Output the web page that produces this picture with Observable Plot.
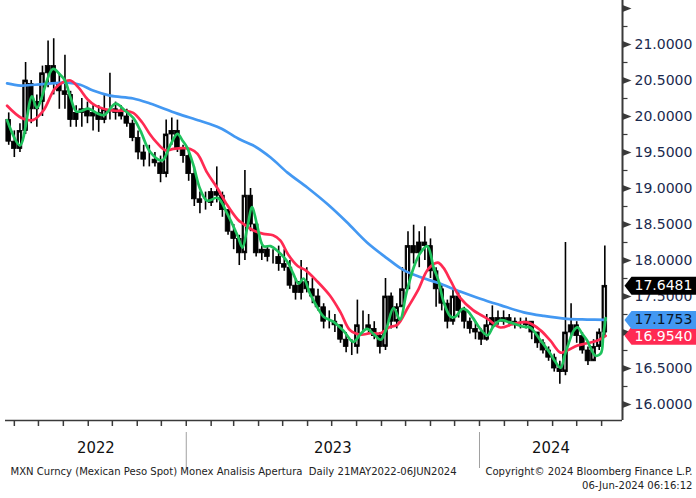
<!DOCTYPE html>
<html><head><meta charset="utf-8">
<script src="https://cdn.jsdelivr.net/npm/d3@7"></script>
<script src="https://cdn.jsdelivr.net/npm/@observablehq/plot@0.6"></script>
<style>html,body{margin:0;padding:0;background:#fff;overflow:hidden}</style>
</head><body><div id="chart"></div>
<script>
// ---- weekly OHLC of USD/MXN ----
const weekStart = "2022-05-23", weekEnd = "2024-06-04";
const open  = [19.95,19.65,19.55,19.8,20.45,20.1,20.2,20.6,20.7,20.45,20.35,20.3,19.95,20.05,20.1,20.0,20.05,19.95,20.1,20.1,20.05,20.0,19.9,19.7,19.5,19.4,19.4,19.35,19.2,19.75,19.8,19.55,19.45,19.2,18.85,18.8,18.8,18.95,18.9,18.7,18.4,18.3,18.1,18.9,18.5,18.1,18.15,18.05,18.05,17.95,17.9,17.65,17.55,17.7,17.6,17.5,17.35,17.15,17.15,17.1,16.9,16.8,16.8,17.1,17.1,17.05,16.95,16.8,17.5,17.15,17.35,17.6,18.2,18.1,18.25,18.2,17.85,17.6,17.4,17.15,17.5,17.3,17.15,17.05,17.0,16.9,17.1,17.2,17.15,17.2,17.15,17.1,17.1,17.15,17.0,16.85,16.75,16.65,16.5,16.45,17.0,17.1,16.95,16.75,16.6,16.8,17.0];
const high  = [20.05,19.8,19.9,20.75,20.5,20.3,20.7,21.05,21.08,20.6,20.85,20.35,20.15,20.25,20.2,20.15,20.15,20.3,20.6,20.2,20.15,20.1,19.95,19.8,19.6,19.6,19.5,19.45,19.95,19.98,19.95,19.6,19.5,19.3,18.95,18.95,19.0,19.3,18.95,18.7,18.5,18.35,19.25,19.0,18.55,18.2,18.2,18.15,18.2,18.15,18.0,17.75,18.0,17.9,17.75,17.6,17.4,17.3,17.25,17.1,17.0,16.9,17.45,17.3,17.25,17.15,17.0,17.75,17.55,17.4,17.9,18.4,18.49,18.4,18.47,18.3,17.9,17.65,17.45,17.6,17.55,17.35,17.2,17.15,17.05,17.25,17.37,17.3,17.3,17.25,17.2,17.2,17.2,17.15,17.0,16.9,16.8,16.7,16.6,18.25,17.4,17.15,17.0,16.8,16.9,17.05,18.2];
const low   = [19.6,19.43,19.5,19.75,19.9,19.85,20.0,20.4,20.3,20.1,20.1,19.85,19.85,19.85,19.9,19.8,19.78,19.9,19.95,19.95,19.95,19.85,19.65,19.4,19.3,19.3,19.3,19.08,19.15,19.6,19.5,19.35,19.1,18.75,18.65,18.7,18.75,18.8,18.6,18.35,18.15,17.93,18.0,18.4,18.05,18.0,17.98,17.95,17.85,17.85,17.6,17.45,17.45,17.55,17.4,17.3,17.05,17.05,17.0,16.85,16.72,16.68,16.7,17.0,16.98,16.9,16.7,16.75,17.05,17.05,17.35,17.6,17.95,17.9,18.0,17.75,17.35,17.3,17.05,17.1,17.2,17.05,16.98,16.9,16.82,16.88,17.05,17.1,17.1,17.08,17.05,17.05,17.05,16.9,16.78,16.7,16.6,16.45,16.28,16.4,16.95,16.85,16.7,16.54,16.6,16.75,16.95];
const close = [19.65,19.55,19.8,20.5,20.1,20.2,20.6,20.7,20.45,20.35,20.3,19.95,20.05,20.1,20.0,20.05,19.95,20.1,20.1,20.05,20.0,19.9,19.7,19.5,19.4,19.4,19.35,19.2,19.75,19.8,19.55,19.45,19.2,18.85,18.8,18.8,18.95,18.9,18.7,18.4,18.3,18.1,18.9,18.5,18.1,18.15,18.05,18.05,17.95,17.9,17.65,17.55,17.7,17.6,17.5,17.35,17.15,17.15,17.1,16.9,16.8,16.8,17.1,17.1,17.05,16.95,16.8,17.5,17.15,17.35,17.6,18.2,18.1,18.25,18.2,17.85,17.6,17.4,17.15,17.5,17.3,17.15,17.05,17.0,16.9,17.1,17.2,17.15,17.2,17.15,17.1,17.1,17.15,17.0,16.85,16.75,16.65,16.5,16.45,17.0,17.1,16.95,16.75,16.6,16.8,17.0,17.6481];

// ---- green (short) moving average ----
const greenDates = ["2022-05-23","2022-06-08","2022-06-23","2022-06-29","2022-07-19","2022-07-28","2022-08-03","2022-08-10","2022-08-17","2022-08-24","2022-09-01","2022-09-13","2022-09-21","2022-10-05","2022-10-17","2022-10-27","2022-11-05","2022-11-17","2022-12-02","2022-12-12","2022-12-21","2022-12-27","2023-01-02","2023-01-10","2023-01-18","2023-01-27","2023-02-09","2023-02-21","2023-03-06","2023-03-12","2023-03-18","2023-03-24","2023-03-30","2023-04-07","2023-04-16","2023-04-24","2023-05-07","2023-05-14","2023-05-21","2023-05-27","2023-06-04","2023-06-13","2023-06-21","2023-07-03","2023-07-16","2023-07-28","2023-08-06","2023-08-14","2023-08-23","2023-08-31","2023-09-07","2023-09-16","2023-09-24","2023-10-02","2023-10-11","2023-10-19","2023-10-28","2023-11-05","2023-11-11","2023-11-17","2023-11-26","2023-12-02","2023-12-11","2023-12-17","2023-12-24","2024-01-02","2024-01-11","2024-01-18","2024-01-27","2024-02-08","2024-02-25","2024-03-04","2024-03-17","2024-03-29","2024-04-04","2024-04-11","2024-04-16","2024-04-21","2024-04-27","2024-05-02","2024-05-08","2024-05-14","2024-05-24","2024-05-31","2024-06-03","2024-06-06"];
const greenValues = [19.95,19.6,20.28,20.12,20.66,20.58,20.5,20.26,20.07,20.08,20.11,20.04,20.02,20.18,20.08,19.98,19.8,19.51,19.39,19.6,19.76,19.67,19.57,19.32,19.0,18.83,18.87,18.65,18.34,18.18,18.46,18.74,18.5,18.2,18.2,18.14,17.98,17.82,17.68,17.75,17.54,17.35,17.22,17.15,17.02,16.87,16.98,17.05,16.97,16.9,17.05,17.34,17.18,17.55,17.9,18.1,18.2,17.9,17.72,17.44,17.22,17.22,17.33,17.3,17.2,17.05,16.96,17.08,17.17,17.14,17.08,17.07,16.89,16.71,16.6,16.51,16.68,16.85,17.02,17.07,16.98,16.89,16.68,16.71,16.95,17.2];

// ---- red (medium) moving average ----
const redDates = ["2022-05-23","2022-06-10","2022-06-24","2022-07-07","2022-07-21","2022-08-01","2022-08-10","2022-08-20","2022-08-31","2022-09-10","2022-09-22","2022-10-05","2022-10-17","2022-10-27","2022-11-07","2022-11-17","2022-11-25","2022-12-06","2022-12-16","2022-12-27","2023-01-06","2023-01-15","2023-01-27","2023-02-09","2023-02-21","2023-03-06","2023-03-13","2023-03-25","2023-04-07","2023-04-19","2023-04-28","2023-05-08","2023-05-20","2023-05-29","2023-06-13","2023-06-29","2023-07-12","2023-07-24","2023-08-06","2023-08-18","2023-08-31","2023-09-10","2023-09-21","2023-10-04","2023-10-17","2023-10-29","2023-11-10","2023-11-17","2023-11-26","2023-12-08","2023-12-24","2024-01-11","2024-01-27","2024-02-12","2024-03-01","2024-03-17","2024-03-29","2024-04-11","2024-04-19","2024-05-02","2024-05-14","2024-05-27","2024-06-06"];
const redValues = [20.15,19.98,19.95,20.08,20.38,20.48,20.5,20.4,20.24,20.15,20.1,20.08,20.08,20.05,19.92,19.75,19.64,19.53,19.55,19.56,19.55,19.48,19.22,19.0,18.77,18.57,18.51,18.42,18.37,18.35,18.28,18.08,17.92,17.87,17.71,17.51,17.28,17.03,16.97,16.99,16.99,17.07,17.11,17.35,17.6,17.88,17.97,17.9,17.72,17.48,17.31,17.19,17.07,17.12,17.14,17.03,16.89,16.72,16.75,16.82,16.85,16.89,16.954];

// ---- blue (200-day) moving average ----
const blueDates = ["2022-05-23","2022-06-09","2022-07-07","2022-08-06","2022-08-22","2022-09-07","2022-09-28","2022-10-27","2022-11-17","2022-12-21","2023-01-18","2023-02-12","2023-03-09","2023-03-25","2023-04-16","2023-05-07","2023-06-01","2023-06-26","2023-07-20","2023-08-14","2023-09-08","2023-09-28","2023-10-19","2023-11-10","2023-12-08","2024-01-02","2024-01-27","2024-02-25","2024-03-21","2024-04-19","2024-05-14","2024-06-06"];
const blueValues = [20.46,20.43,20.45,20.47,20.44,20.36,20.29,20.25,20.18,20.04,19.94,19.84,19.68,19.6,19.43,19.22,19.01,18.78,18.53,18.25,18.03,17.87,17.77,17.69,17.57,17.47,17.38,17.28,17.23,17.19,17.18,17.1753];

// ---- axis ticks and labels ----
const majorTicks = [16,16.5,17,17.5,18,18.5,19,19.5,20,20.5,21,21.5];
const minorTicks = [16.25,16.75,17.25,17.75,18.25,18.75,19.25,19.75,20.25,20.75,21.25];
const tickValues = [16,16.5,17,17.5,18,18.5,19,19.5,20,20.5,21];
const tickLabels = ["16.0000","16.5000","17.0000","17.5000","18.0000","18.5000","19.0000","19.5000","20.0000","20.5000","21.0000"];
const years = [2022, 2023, 2024];
const lastPrice = 17.6481, lastBlue = 17.1753, lastRed = 16.954;
const footerLeft = "MXN Curncy (Mexican Peso Spot) Monex Analisis Apertura  Daily 21MAY2022-06JUN2024";
const footerRight1 = "Copyright\u00A9 2024 Bloomberg Finance L.P.";
const footerRight2 = "06-Jun-2024 06:16:12";

const xDomain = [new Date("2022-05-21"), new Date("2024-06-27")];
const yDomain = [15.7778, 21.6111];

const GREEN = "#1ec25c", RED = "#ff2a52", BLUE = "#4398f2", AXIS = "#3a3a3a", TXT = "#1b2a4e";
const FONT = "DejaVu Sans", COND = "DejaVu Sans Condensed";

const weeks = d3.utcMonday.range(new Date(weekStart), new Date(weekEnd)).map(d => d3.utcDay.offset(d, 2));
const candles = weeks.map((date, i) => ({date, open: open[i], high: high[i], low: low[i], close: close[i]}));
const series = (dates, vals) => dates.map((d, i) => ({date: new Date(d), v: vals[i]}));
const green = series(greenDates, greenValues), red = series(redDates, redValues), blue = series(blueDates, blueValues);

const yearMid = years.map(y => {
  const s = Math.max(+xDomain[0], Date.UTC(y, 0, 1)), e = Math.min(+xDomain[1], Date.UTC(y + 1, 0, 1));
  return new Date((s + e) / 2);
});
const monthTicks = d3.utcMonth.range(new Date("2022-06-01"), new Date("2024-07-01"));
const yearBreaks = years.slice(1).map(y => new Date(Date.UTC(y, 0, 1)));

const triSym = {draw(c) { c.moveTo(0, -3.5); c.lineTo(9, 0); c.lineTo(0, 3.5); c.closePath(); }};
const minorSym = {draw(c) { c.moveTo(0, 0); c.lineTo(5, 0); }};
const tagSym = {draw(c) { c.moveTo(2, 0); c.lineTo(9, -9); c.lineTo(80, -9); c.lineTo(80, 9); c.lineTo(9, 9); c.closePath(); }};

const half = 70; // hours on each side of the candle centre
const plot = Plot.plot({
  width: 696, height: 498,
  marginLeft: 5, marginRight: 74, marginTop: 0, marginBottom: 78,
  x: {type: "utc", domain: xDomain, axis: null},
  y: {domain: yDomain, axis: null},
  style: {fontFamily: FONT, background: "#fff"},
  marks: [
    // candles
    Plot.ruleX(candles, {x: "date", y1: "low", y2: "high", stroke: "#000", strokeWidth: 1.6}),
    Plot.rect(candles, {x1: d => d3.utcHour.offset(d.date, -half), x2: d => d3.utcHour.offset(d.date, half), y1: "open", y2: "close", fill: "#000", stroke: "#000", strokeWidth: 0.8}),
    Plot.rect(candles.filter(d => d.close - d.open > 0.15), {x1: d => d3.utcHour.offset(d.date, -16), x2: d => d3.utcHour.offset(d.date, 16), y1: d => d.open + 0.03, y2: d => d.close - 0.03, fill: "#fff"}),
    // moving averages
    Plot.line(blue, {x: "date", y: "v", stroke: BLUE, strokeWidth: 2.7, curve: "catmull-rom"}),
    Plot.line(red, {x: "date", y: "v", stroke: RED, strokeWidth: 2.7, curve: "catmull-rom"}),
    Plot.line(green, {x: "date", y: "v", stroke: GREEN, strokeWidth: 2.7, curve: "catmull-rom"}),
    // axis lines
    Plot.ruleY([yDomain[0]], {stroke: AXIS, strokeWidth: 1.5}),
    Plot.ruleX([xDomain[1]], {stroke: AXIS, strokeWidth: 2}),
    // bottom ticks and year separators
    Plot.axisX(monthTicks, {anchor: "bottom", tickSize: 6, tickFormat: () => "", stroke: AXIS, strokeWidth: 1.5}),
    Plot.axisX(yearBreaks, {anchor: "bottom", tickSize: 36, tickFormat: () => "", stroke: "#a0a0a0", strokeWidth: 1, dy: 12}),
    Plot.text(years, {x: (d, i) => yearMid[i], text: d => String(d), frameAnchor: "bottom", dy: 32, fontSize: 16.5, fontFamily: COND, fill: "#111"}),
    // right axis ticks
    Plot.dot(majorTicks, {y: d => d, frameAnchor: "right", symbol: triSym, fill: AXIS, stroke: "none"}),
    Plot.dot(minorTicks, {y: d => d, frameAnchor: "right", symbol: minorSym, fill: "none", stroke: AXIS, strokeWidth: 1.2}),
    Plot.text(tickLabels, {y: (d, i) => tickValues[i], text: d => d, frameAnchor: "right", dx: 12, textAnchor: "start", fontSize: 14, fill: TXT}),
    // last value tags
    Plot.dot([lastRed], {y: d => d, frameAnchor: "right", symbol: tagSym, fill: RED, stroke: "none"}),
    Plot.text([lastRed], {y: d => d, text: d => d.toFixed(4), frameAnchor: "right", dx: 12, dy: 1, textAnchor: "start", fontSize: 14, fill: "#fff"}),
    Plot.dot([lastBlue], {y: d => d, frameAnchor: "right", symbol: tagSym, fill: BLUE, stroke: "none"}),
    Plot.text([lastBlue], {y: d => d, text: d => d.toFixed(4), frameAnchor: "right", dx: 12, textAnchor: "start", fontSize: 14, fill: "#0a1628"}),
    Plot.dot([lastPrice], {y: d => d, frameAnchor: "right", symbol: tagSym, fill: "#000", stroke: "none"}),
    Plot.text([lastPrice], {y: d => d, text: d => d.toFixed(4), frameAnchor: "right", dx: 12, textAnchor: "start", fontSize: 14, fill: "#fff"}),
    // footer
    Plot.text([footerLeft], {frameAnchor: "bottom-left", dx: 5, dy: 54, textAnchor: "start", fontSize: 11.2, fontFamily: COND, fill: "#222"}),
    Plot.text([footerRight1], {frameAnchor: "bottom-right", dx: 70, dy: 54, textAnchor: "end", fontSize: 11.2, fontFamily: COND, fill: "#222"}),
    Plot.text([footerRight2], {frameAnchor: "bottom-right", dx: 70, dy: 68, textAnchor: "end", fontSize: 11.2, fontFamily: COND, fill: "#222"})
  ]
});
document.getElementById("chart").appendChild(plot);
</script>
</body></html>
